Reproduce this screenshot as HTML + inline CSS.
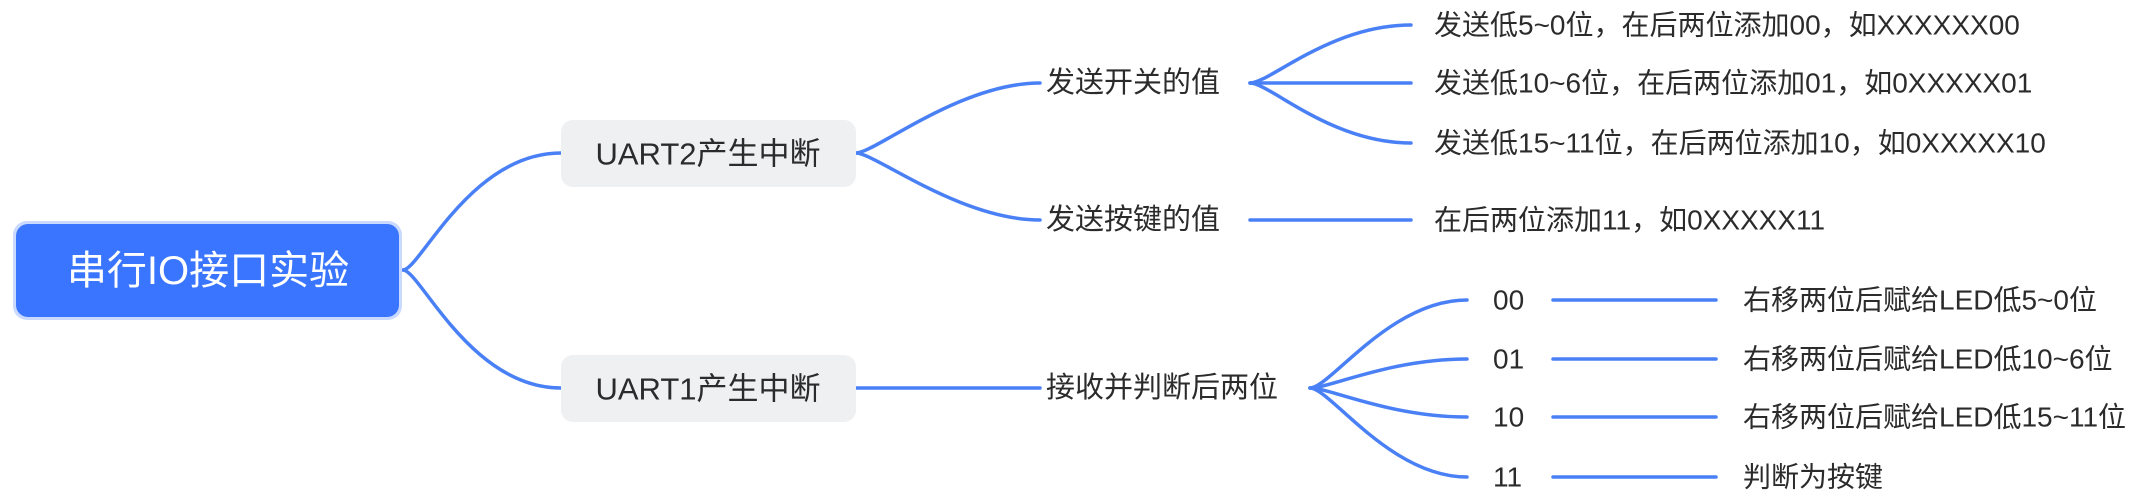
<!DOCTYPE html>
<html><head><meta charset="utf-8"><style>
html,body{margin:0;padding:0;background:#fff;}
svg{display:block;}
text{font-family:"Liberation Sans","Noto Sans CJK SC",sans-serif;fill:#2b2b2b;dominant-baseline:central;}
</style></head><body>
<svg width="2154" height="503" viewBox="0 0 2154 503" xmlns="http://www.w3.org/2000/svg">
<g fill="none" stroke="#4a80f5" stroke-width="3.5" stroke-linecap="round">
<path d="M403 270 C420 270 470 153 561 153"/>
<path d="M403 270 C420 270 470 388 561 388"/>
<path d="M856 153 C875 153 960 83 1040 83"/>
<path d="M856 153 C875 153 960 220 1040 220"/>
<path d="M856 388 L1040 388"/>
<path d="M1250 83 C1270 83 1330 25 1411 25"/>
<path d="M1250 83 L1411 83"/>
<path d="M1250 83 C1270 83 1330 143 1411 143"/>
<path d="M1250 220 L1411 220"/>
<path d="M1310 388 C1330 388 1390 300 1467 300"/>
<path d="M1310 388 C1330 388 1390 359 1467 359"/>
<path d="M1310 388 C1330 388 1390 417 1467 417"/>
<path d="M1310 388 C1330 388 1390 477 1467 477"/>
<path d="M1553 300 L1716 300"/>
<path d="M1553 359 L1716 359"/>
<path d="M1553 417 L1716 417"/>
<path d="M1553 477 L1716 477"/>
</g>
<rect x="13" y="221" width="389" height="99" rx="14" fill="#c9d9ff"/>
<rect x="16" y="224" width="383" height="93" rx="12" fill="#3a75ff"/>
<text x="208" y="271" text-anchor="middle" font-size="40" style="fill:#fff">串行IO接口实验</text>
<rect x="561" y="120" width="295" height="67" rx="12" fill="#eef0f2"/>
<text x="708" y="154" text-anchor="middle" font-size="31">UART2产生中断</text>
<rect x="561" y="355" width="295" height="67" rx="12" fill="#eef0f2"/>
<text x="708" y="389" text-anchor="middle" font-size="31">UART1产生中断</text>
<g font-size="29">
<text x="1046" y="83">发送开关的值</text>
<text x="1046" y="220">发送按键的值</text>
<text x="1046" y="388">接收并判断后两位</text>
</g>
<g font-size="28">
<text x="1434" y="25">发送低5~0位，在后两位添加00，如XXXXXX00</text>
<text x="1434" y="83">发送低10~6位，在后两位添加01，如0XXXXX01</text>
<text x="1434" y="143">发送低15~11位，在后两位添加10，如0XXXXX10</text>
<text x="1434" y="220">在后两位添加11，如0XXXXX11</text>
<text x="1493" y="300">00</text>
<text x="1493" y="359">01</text>
<text x="1493" y="417">10</text>
<text x="1493" y="477">11</text>
<text x="1743" y="300">右移两位后赋给LED低5~0位</text>
<text x="1743" y="359">右移两位后赋给LED低10~6位</text>
<text x="1743" y="417">右移两位后赋给LED低15~11位</text>
<text x="1743" y="477">判断为按键</text>
</g>
</svg>
</body></html>
